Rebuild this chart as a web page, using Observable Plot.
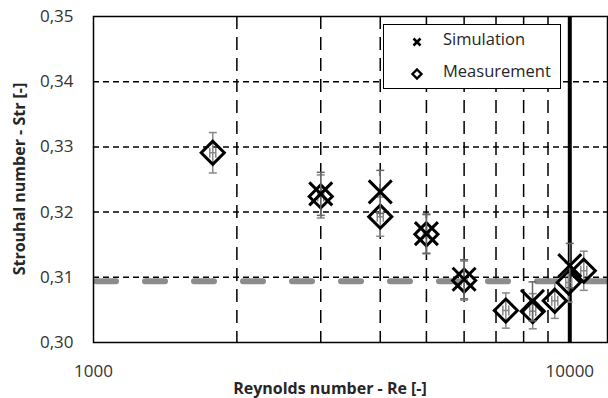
<!DOCTYPE html>
<html><head><meta charset="utf-8">
<script src="https://cdn.jsdelivr.net/npm/d3@7"></script>
<script src="https://cdn.jsdelivr.net/npm/@observablehq/plot@0.6"></script>
<style>
html,body{margin:0;padding:0;background:#fff;}
#chart{position:relative;width:608px;height:398px;font-family:"Open Sans",sans-serif;color:#262626;}
.title{position:absolute;font-weight:bold;font-size:16px;white-space:nowrap;}
#ytitle{left:19px;top:179px;transform:translate(-50%,-50%) rotate(-90deg);}
#xtitle{left:330px;top:388px;transform:translate(-50%,-50%);}
#legend{position:absolute;left:383px;top:24px;width:176px;height:63px;border:1.5px solid #000;background:#fff;font-size:16.5px;}
#legend .row{position:absolute;left:0;height:20px;line-height:20px;}
#legend svg{position:absolute;left:26px;top:4px;}
#legend span{position:absolute;left:59px;top:-2px;white-space:nowrap;}
</style></head><body><div id="chart"></div>
<script>
// ---- data ----
const simRe = [3000, 4000, 5000, 6000, 8350, 10000];
const simStr = [0.3228, 0.3231, 0.3167, 0.3097, 0.3063, 0.3118];
const simErr = [0.0033, 0.0033, 0.0030, 0.0030, 0.0030, 0.0034];
const measRe = [1780, 3000, 4000, 5000, 6000, 7340, 8360, 9300, 9950, 10700];
const measStr = [0.3291, 0.3224, 0.3193, 0.3166, 0.3095, 0.3049, 0.3048, 0.3064, 0.3092, 0.3110];
const measErr = [0.0031, 0.0033, 0.0030, 0.0030, 0.0030, 0.0027, 0.0027, 0.0027, 0.0030, 0.0030];
const refStr = 0.3094;
const limitRe = 10000;
const xGridTicks = [2000, 3000, 4000, 5000, 6000, 7000, 8000, 9000];
const yGridTicks = [0.31, 0.32, 0.33, 0.34];
const xTickLabels = [1000, 10000];
const yTickLabels = [0.30, 0.31, 0.32, 0.33, 0.34, 0.35];
const seriesNames = ["Simulation", "Measurement"];
const xTitle = "Reynolds number - Re [-]";
const yTitle = "Strouhal number - Str [-]";

const sim = simRe.map((re, i) => ({re, str: simStr[i], lo: simStr[i] - simErr[i], hi: simStr[i] + simErr[i]}));
const meas = measRe.map((re, i) => ({re, str: measStr[i], lo: measStr[i] - measErr[i], hi: measStr[i] + measErr[i]}));

const capSymbol = {draw(ctx) { ctx.moveTo(-4, 0); ctx.lineTo(4, 0); }};
const hSymbol = {draw(ctx) {
  ctx.moveTo(-3, -5); ctx.lineTo(-3, 5);
  ctx.moveTo(3, -5); ctx.lineTo(3, 5);
  ctx.moveTo(-3, 0); ctx.lineTo(3, 0);
}};

const chart = Plot.plot({
  width: 608, height: 398,
  marginLeft: 93, marginRight: 1, marginTop: 16, marginBottom: 56,
  x: {type: "log", domain: [1000, 12000]},
  y: {domain: [0.30, 0.35]},
  style: {fontFamily: "Open Sans, sans-serif", fontSize: "17px", color: "#333", background: "white"},
  marks: [
    Plot.ruleY(yGridTicks, {stroke: "#000", strokeWidth: 1.5, strokeDasharray: "6,4"}),
    Plot.ruleX(xGridTicks, {stroke: "#000", strokeWidth: 1.5, strokeDasharray: "13,8"}),
    Plot.ruleY([refStr], {stroke: "#8c8c8c", strokeWidth: 6, strokeDasharray: "20,29", strokeLinecap: "round", dx: 3}),
    Plot.ruleX([limitRe], {stroke: "#000", strokeWidth: 4}),
    // measurement error bars
    Plot.ruleX(meas, {x: "re", y1: "lo", y2: "hi", stroke: "#888", strokeWidth: 1.5}),
    Plot.dot(meas, {x: "re", y: "lo", symbol: capSymbol, stroke: "#888", strokeWidth: 1.5}),
    Plot.dot(meas, {x: "re", y: "hi", symbol: capSymbol, stroke: "#888", strokeWidth: 1.5}),
    Plot.dot(meas, {x: "re", y: "str", symbol: "diamond2", r: 10.4, stroke: "#000", strokeWidth: 3}),
    Plot.dot(meas, {x: "re", y: "str", symbol: hSymbol, stroke: "#888", strokeWidth: 1.5}),
    // simulation error bars
    Plot.ruleX(sim, {x: "re", y1: "lo", y2: "hi", stroke: "#666", strokeWidth: 1.5}),
    Plot.dot(sim, {x: "re", y: "lo", symbol: capSymbol, stroke: "#666", strokeWidth: 1.5}),
    Plot.dot(sim, {x: "re", y: "hi", symbol: capSymbol, stroke: "#666", strokeWidth: 1.5}),
    Plot.dot(sim, {x: "re", y: "str", symbol: "times", r: 10.5, stroke: "#000", strokeWidth: 3}),
    Plot.frame({stroke: "#000", strokeWidth: 1.5}),
    Plot.axisY(yTickLabels, {tickSize: 0, tickPadding: 20, label: null, fontSize: 17,
      tickFormat: d => d.toFixed(2).replace(".", ",")}),
    Plot.axisX(xTickLabels, {tickSize: 0, tickPadding: 22, label: null, fontSize: 17,
      tickFormat: d3.format("d")})
  ]
});

const root = document.getElementById("chart");
root.appendChild(chart);

const yt = document.createElement("div"); yt.className = "title"; yt.id = "ytitle"; yt.textContent = yTitle; root.appendChild(yt);
const xt = document.createElement("div"); xt.className = "title"; xt.id = "xtitle"; xt.textContent = xTitle; root.appendChild(xt);

const legend = document.createElement("div"); legend.id = "legend";
legend.innerHTML = `
  <div class="row" style="top:6px;width:100%">
    <svg width="14" height="14" viewBox="-7 -7 14 14"><path d="M-3.5,-3.5L3.5,3.5M-3.5,3.5L3.5,-3.5" stroke="#000" stroke-width="2.6" fill="none"/></svg>
    <span>${seriesNames[0]}</span>
  </div>
  <div class="row" style="top:38px;width:100%">
    <svg width="14" height="14" viewBox="-7 -7 14 14"><path d="M0,-4.5L4.5,0L0,4.5L-4.5,0Z" stroke="#000" stroke-width="2.4" fill="none"/></svg>
    <span>${seriesNames[1]}</span>
  </div>`;
root.appendChild(legend);
</script>
</body></html>
